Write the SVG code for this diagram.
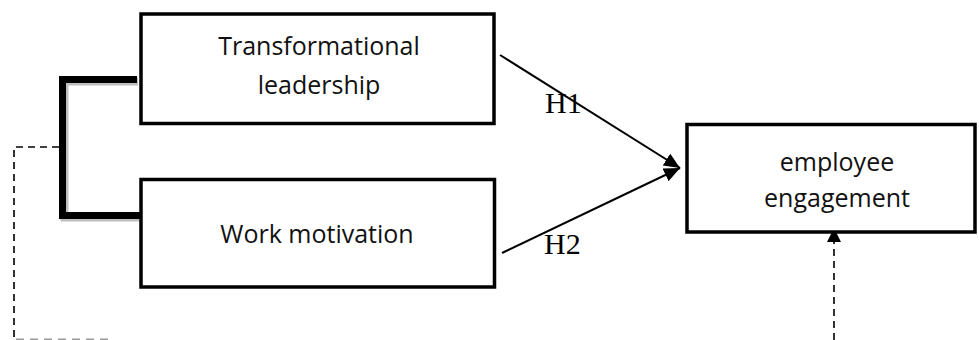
<svg xmlns="http://www.w3.org/2000/svg" width="979" height="340" viewBox="0 0 979 340">
<defs>
<style>
.box{fill:#fff;stroke:#000;stroke-width:3.5}
.lbl{font-family:"Open Sans","Liberation Sans",sans-serif;font-size:25px;fill:#111;text-anchor:middle}
.h{font-family:"Liberation Serif","Times New Roman",serif;font-size:30px;fill:#000}
.arr{stroke:#000;stroke-width:2;fill:none}
.dash{stroke:#000;stroke-width:1.6;fill:none;stroke-dasharray:7 5}
.brk{stroke:#000;stroke-width:7;fill:none;stroke-linejoin:miter}
.brks{stroke:#000;stroke-opacity:0.25;stroke-width:8;fill:none}
</style>
<marker id="ah" markerUnits="userSpaceOnUse" markerWidth="18" markerHeight="16" refX="16" refY="7" orient="auto">
<path d="M0,0 L16,7 L0,14 Z" fill="#000"/>
</marker>
<marker id="ahs" markerUnits="userSpaceOnUse" markerWidth="16" markerHeight="16" refX="14" refY="7" orient="auto">
<path d="M0,0 L14,7 L0,14 Z" fill="#000"/>
</marker>
</defs>
<rect width="979" height="340" fill="#fff"/>
<g id="connectors">
<path class="brks" d="M138,81.5 L64.5,81.5 L64.5,217.5 L142,217.5"/>
<path class="brk" d="M137,79.5 L62.5,79.5 L62.5,215.5 L142,215.5"/>
<path class="dash" d="M59,147 L14,147 L14,339"/>
<path d="M16,339.3 L112,339.3" stroke="#999" stroke-width="1.4" stroke-dasharray="8 6" fill="none"/>
<line class="arr" x1="500" y1="55" x2="680" y2="168" marker-end="url(#ah)"/>
<line class="arr" x1="502" y1="253" x2="680" y2="168" marker-end="url(#ah)"/>
<line class="dash" x1="834" y1="340" x2="834" y2="228" marker-end="url(#ahs)"/>
</g>
<g id="node-transformational">
<rect class="box" x="141" y="14" width="353" height="109.5"/>
<text class="lbl" x="319" y="55">Transformational</text>
<text class="lbl" x="319" y="94">leadership</text>
</g>
<g id="node-work-motivation">
<rect class="box" x="141" y="179.5" width="353.5" height="107.5"/>
<text class="lbl" x="317" y="243">Work motivation</text>
</g>
<g id="node-employee-engagement">
<rect class="box" x="687" y="124.5" width="288" height="107.5"/>
<text class="lbl" x="837" y="171">employee</text>
<text class="lbl" x="837" y="207">engagement</text>
</g>
<g id="labels">
<text class="h" x="545" y="113">H1</text>
<text class="h" x="544" y="254">H2</text>
</g>
</svg>
